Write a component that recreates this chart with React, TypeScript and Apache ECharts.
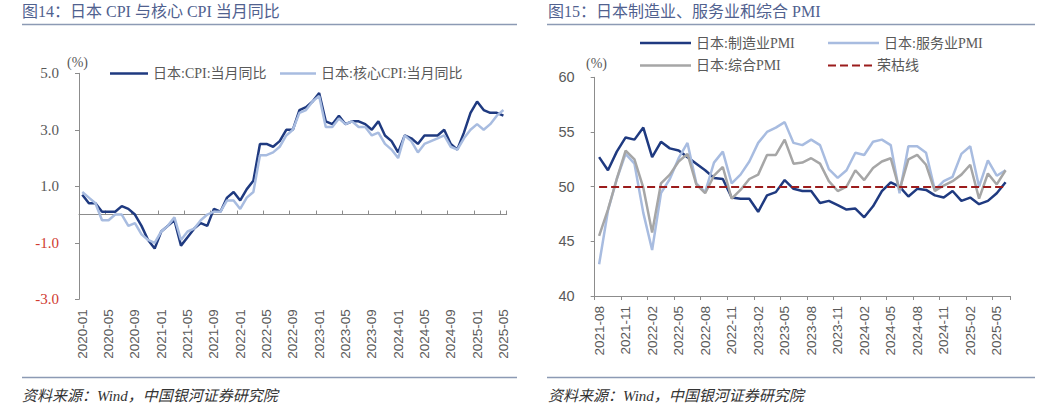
import { useEffect, useRef } from 'react'
import * as echarts from 'echarts'

// month labels like 2020-01
function monthRange(year: number, month: number, count: number) {
  const out: string[] = []
  let y = year
  let m = month
  for (let i = 0; i < count; i++) {
    out.push(`${y}-${String(m).padStart(2, '0')}`)
    m++
    if (m > 12) {
      m = 1
      y++
    }
  }
  return out
}

const cpiMonths = monthRange(2020, 1, 65)
const cpiYoY = [
  0.7, 0.4, 0.4, 0.1, 0.1, 0.1, 0.3, 0.2, 0.0, -0.4, -0.9, -1.2,
  -0.6, -0.4, -0.2, -1.1, -0.8, -0.5, -0.3, -0.4, 0.2, 0.1, 0.6, 0.8,
  0.5, 0.9, 1.2, 2.5, 2.5, 2.4, 2.6, 3.0, 3.0, 3.7, 3.8, 4.0,
  4.3, 3.3, 3.2, 3.5, 3.2, 3.3, 3.3, 3.2, 3.0, 3.3, 2.8, 2.6,
  2.2, 2.8, 2.7, 2.5, 2.8, 2.8, 2.8, 3.0, 2.5, 2.3, 2.9, 3.6,
  4.0, 3.7, 3.6, 3.6, 3.5,
]
const coreCpiYoY = [
  0.8, 0.6, 0.4, -0.2, -0.2, 0.0, 0.0, -0.4, -0.3, -0.7, -0.9, -1.0,
  -0.6, -0.4, -0.1, -0.9, -0.6, -0.5, -0.2, 0.0, 0.1, 0.1, 0.5, 0.5,
  0.2, 0.6, 0.8, 2.1, 2.1, 2.2, 2.4, 2.8, 3.0, 3.6, 3.7, 4.0,
  4.2, 3.1, 3.1, 3.4, 3.2, 3.3, 3.1, 3.1, 2.8, 2.9, 2.5, 2.3,
  2.0, 2.8, 2.6, 2.2, 2.5, 2.6, 2.7, 2.8, 2.4, 2.3, 2.7, 3.0,
  3.2, 3.0, 3.2, 3.5, 3.7,
]
const cpiAxis = [-3, 5, 2] // min, max, step

const pmiMonths = monthRange(2021, 8, 47)
const manufacturingPmi = [
  52.7, 51.5, 53.2, 54.5, 54.3,
  55.4, 52.7, 54.1, 53.5, 53.3, 52.7, 52.1, 51.5, 50.8, 50.7, 49.0, 48.9,
  48.9, 47.7, 49.2, 49.5, 50.6, 49.8, 49.6, 49.6, 48.5, 48.7, 48.3, 47.9,
  48.0, 47.2, 48.2, 49.6, 50.4, 50.0, 49.1, 49.8, 49.7, 49.2, 49.0, 49.6,
  48.7, 49.0, 48.4, 48.7, 49.4, 50.4,
]
const servicesPmi = [
  42.9, 47.8, 50.7, 53.0, 52.1,
  47.6, 44.2, 49.4, 50.7, 52.6, 54.0, 50.3, 49.5, 52.2, 53.2, 50.3, 51.1,
  52.3, 54.0, 55.0, 55.4, 55.9, 54.0, 53.8, 54.3, 53.8, 51.6, 50.8, 51.5,
  53.1, 52.9, 54.1, 54.3, 53.8, 49.4, 53.7, 53.7, 53.1, 49.7, 50.5, 50.9,
  53.0, 53.7, 50.0, 52.4, 51.0, 51.5,
]
const compositePmi = [
  45.5, 47.9, 50.7, 53.3, 52.5,
  49.9, 45.8, 50.3, 51.1, 52.3, 53.0, 50.2, 49.4, 51.0, 51.8, 48.9, 49.7,
  50.7, 51.1, 52.9, 52.9, 54.3, 52.1, 52.2, 52.6, 52.1, 50.5, 49.6, 50.0,
  51.5, 50.6, 51.7, 52.3, 52.6, 49.7, 52.5, 52.9, 52.0, 49.6, 50.1, 50.5,
  51.1, 52.0, 48.9, 51.2, 50.2, 51.5,
]
const pmiAxis = [40, 60, 5]
const boomBustLine = 50

const serif = "'Liberation Serif', 'Noto Sans CJK SC', serif"
const sans = "'Liberation Sans', 'Noto Sans CJK SC', sans-serif"
const navy = '#1f3a80'
const lightBlue = '#a8bce0'
const grey = '#a6a6a6'
const darkRed = '#9b1c1c'
const labelColor = '#595959'
const axisColor = '#8c8c8c'
const ruleColor = '#8c9ab4'
const titleColor = '#50618f'

const dashIcon = 'path://M0,0h8v2h-8zM12,0h8v2h-8zM24,0h8v2h-8zM36,0h8v2h-8z'

export default function App() {
  const chartRef = useRef<HTMLDivElement>(null)

  useEffect(() => {
    document.body.style.margin = '0'
    if (!chartRef.current) return
    const chart = echarts.init(chartRef.current, null, { renderer: 'svg' })

    const legendText = { color: labelColor, fontSize: 14, fontFamily: serif }
    const legendBase = { padding: 0, itemHeight: 2.5, icon: 'rect', textStyle: legendText, selectedMode: false }

    const option = {
      animation: false,
      grid: [
        { left: 79, top: 73.3, width: 427.7, height: 226 },
        { left: 594.7, top: 77.3, width: 415.3, height: 218.7 },
      ],
      legend: [
        { ...legendBase, data: ['日本:CPI:当月同比'], left: 110, top: 66.5, itemWidth: 38 },
        { ...legendBase, data: ['日本:核心CPI:当月同比'], left: 280, top: 66.5, itemWidth: 36 },
        { ...legendBase, data: ['日本:制造业PMI'], left: 640, top: 36, itemWidth: 51 },
        { ...legendBase, data: ['日本:服务业PMI'], left: 828, top: 36, itemWidth: 51 },
        { ...legendBase, data: ['日本:综合PMI'], left: 640, top: 58.5, itemWidth: 51 },
        { ...legendBase, data: ['荣枯线'], left: 828, top: 58.5, itemWidth: 44, itemHeight: 2.2, icon: dashIcon },
      ],
      xAxis: [
        {
          gridIndex: 0,
          type: 'category',
          data: cpiMonths,
          boundaryGap: true,
          axisLine: { show: false, onZero: false },
          axisTick: { show: false },
          axisLabel: { rotate: 90, interval: 3, margin: 10, fontSize: 13.5, color: labelColor, fontFamily: sans },
        },
        {
          gridIndex: 0,
          type: 'category',
          data: cpiMonths,
          boundaryGap: true,
          axisLine: { show: true, onZero: true, lineStyle: { color: axisColor, width: 1 } },
          axisTick: { show: true, interval: 3, length: 4, lineStyle: { color: axisColor } },
          axisLabel: { show: false },
        },
        {
          gridIndex: 1,
          type: 'category',
          data: pmiMonths,
          boundaryGap: true,
          axisLine: { show: true, onZero: false, lineStyle: { color: axisColor, width: 1 } },
          axisTick: { show: true, interval: 2, length: 4, lineStyle: { color: axisColor } },
          axisLabel: { rotate: 90, interval: 2, margin: 10, fontSize: 13.5, color: labelColor, fontFamily: sans },
        },
      ],
      yAxis: [
        {
          gridIndex: 0,
          type: 'value',
          min: cpiAxis[0],
          max: cpiAxis[1],
          interval: cpiAxis[2],
          axisLine: { show: true, lineStyle: { color: axisColor, width: 1 } },
          axisTick: { show: true, length: 4, lineStyle: { color: axisColor } },
          splitLine: { show: false },
          axisLabel: {
            margin: 20,
            fontSize: 15,
            fontFamily: serif,
            formatter: (v: number) => v.toFixed(1),
            color: (v: number) => (Number(v) < 0 ? '#d03a2f' : labelColor),
          },
        },
        {
          gridIndex: 1,
          type: 'value',
          min: pmiAxis[0],
          max: pmiAxis[1],
          interval: pmiAxis[2],
          axisLine: { show: true, lineStyle: { color: axisColor, width: 1 } },
          axisTick: { show: true, length: 4, lineStyle: { color: axisColor } },
          splitLine: { show: false },
          axisLabel: { margin: 20, fontSize: 14.5, fontFamily: sans, color: labelColor },
        },
      ],
      series: [
        {
          name: '日本:CPI:当月同比',
          type: 'line',
          xAxisIndex: 0,
          yAxisIndex: 0,
          data: cpiYoY,
          symbol: 'none',
          lineStyle: { color: navy, width: 2.5 },
          itemStyle: { color: navy },
        },
        {
          name: '日本:核心CPI:当月同比',
          type: 'line',
          xAxisIndex: 0,
          yAxisIndex: 0,
          data: coreCpiYoY,
          symbol: 'none',
          lineStyle: { color: lightBlue, width: 2.5 },
          itemStyle: { color: lightBlue },
        },
        {
          name: '日本:制造业PMI',
          type: 'line',
          xAxisIndex: 2,
          yAxisIndex: 1,
          data: manufacturingPmi,
          symbol: 'none',
          lineStyle: { color: navy, width: 2.5 },
          itemStyle: { color: navy },
        },
        {
          name: '日本:服务业PMI',
          type: 'line',
          xAxisIndex: 2,
          yAxisIndex: 1,
          data: servicesPmi,
          symbol: 'none',
          lineStyle: { color: lightBlue, width: 2.5 },
          itemStyle: { color: lightBlue },
        },
        {
          name: '日本:综合PMI',
          type: 'line',
          xAxisIndex: 2,
          yAxisIndex: 1,
          data: compositePmi,
          symbol: 'none',
          lineStyle: { color: grey, width: 2.5 },
          itemStyle: { color: grey },
        },
        {
          name: '荣枯线',
          type: 'line',
          xAxisIndex: 2,
          yAxisIndex: 1,
          data: [],
          symbol: 'none',
          lineStyle: { color: darkRed, width: 2, type: [8, 4] },
          itemStyle: { color: darkRed },
          markLine: {
            silent: true,
            symbol: 'none',
            label: { show: false },
            lineStyle: { color: darkRed, width: 2, type: [8, 4] },
            data: [
              [
                { coord: [pmiMonths[0], boomBustLine] },
                { coord: [pmiMonths[pmiMonths.length - 1], boomBustLine] },
              ],
            ],
          },
        },
      ],
      graphic: [
        { type: 'text', x: 22, y: 11, style: { text: '图14：日本 CPI 与核心 CPI 当月同比', fill: titleColor, fontSize: 16, fontFamily: serif, verticalAlign: 'middle' } },
        { type: 'text', x: 548, y: 11, style: { text: '图15：日本制造业、服务业和综合 PMI', fill: titleColor, fontSize: 16, fontFamily: serif, verticalAlign: 'middle' } },
        { type: 'line', shape: { x1: 22, y1: 24.5, x2: 517, y2: 24.5 }, style: { stroke: ruleColor, lineWidth: 1.5 } },
        { type: 'line', shape: { x1: 547, y1: 24.5, x2: 1035, y2: 24.5 }, style: { stroke: ruleColor, lineWidth: 1.5 } },
        { type: 'text', x: 67, y: 62, style: { text: '(%)', fill: labelColor, fontSize: 14, fontFamily: serif, verticalAlign: 'middle' } },
        { type: 'text', x: 586, y: 63.5, style: { text: '(%)', fill: labelColor, fontSize: 14, fontFamily: serif, verticalAlign: 'middle' } },
        { type: 'line', shape: { x1: 22, y1: 377.5, x2: 517, y2: 377.5 }, style: { stroke: ruleColor, lineWidth: 1.5 } },
        { type: 'line', shape: { x1: 547, y1: 377.5, x2: 1035, y2: 377.5 }, style: { stroke: ruleColor, lineWidth: 1.5 } },
        { type: 'text', x: 22, y: 396, style: { text: '资料来源：Wind，中国银河证券研究院', fill: '#333333', fontSize: 15, fontStyle: 'italic', fontFamily: serif, verticalAlign: 'middle' } },
        { type: 'text', x: 548, y: 396, style: { text: '资料来源：Wind，中国银河证券研究院', fill: '#333333', fontSize: 15, fontStyle: 'italic', fontFamily: serif, verticalAlign: 'middle' } },
      ],
    }

    chart.setOption(option)

    return () => {
      chart.dispose()
    }
  }, [])

  return <div ref={chartRef} style={{ width: '1056px', height: '414px' }} />
}
